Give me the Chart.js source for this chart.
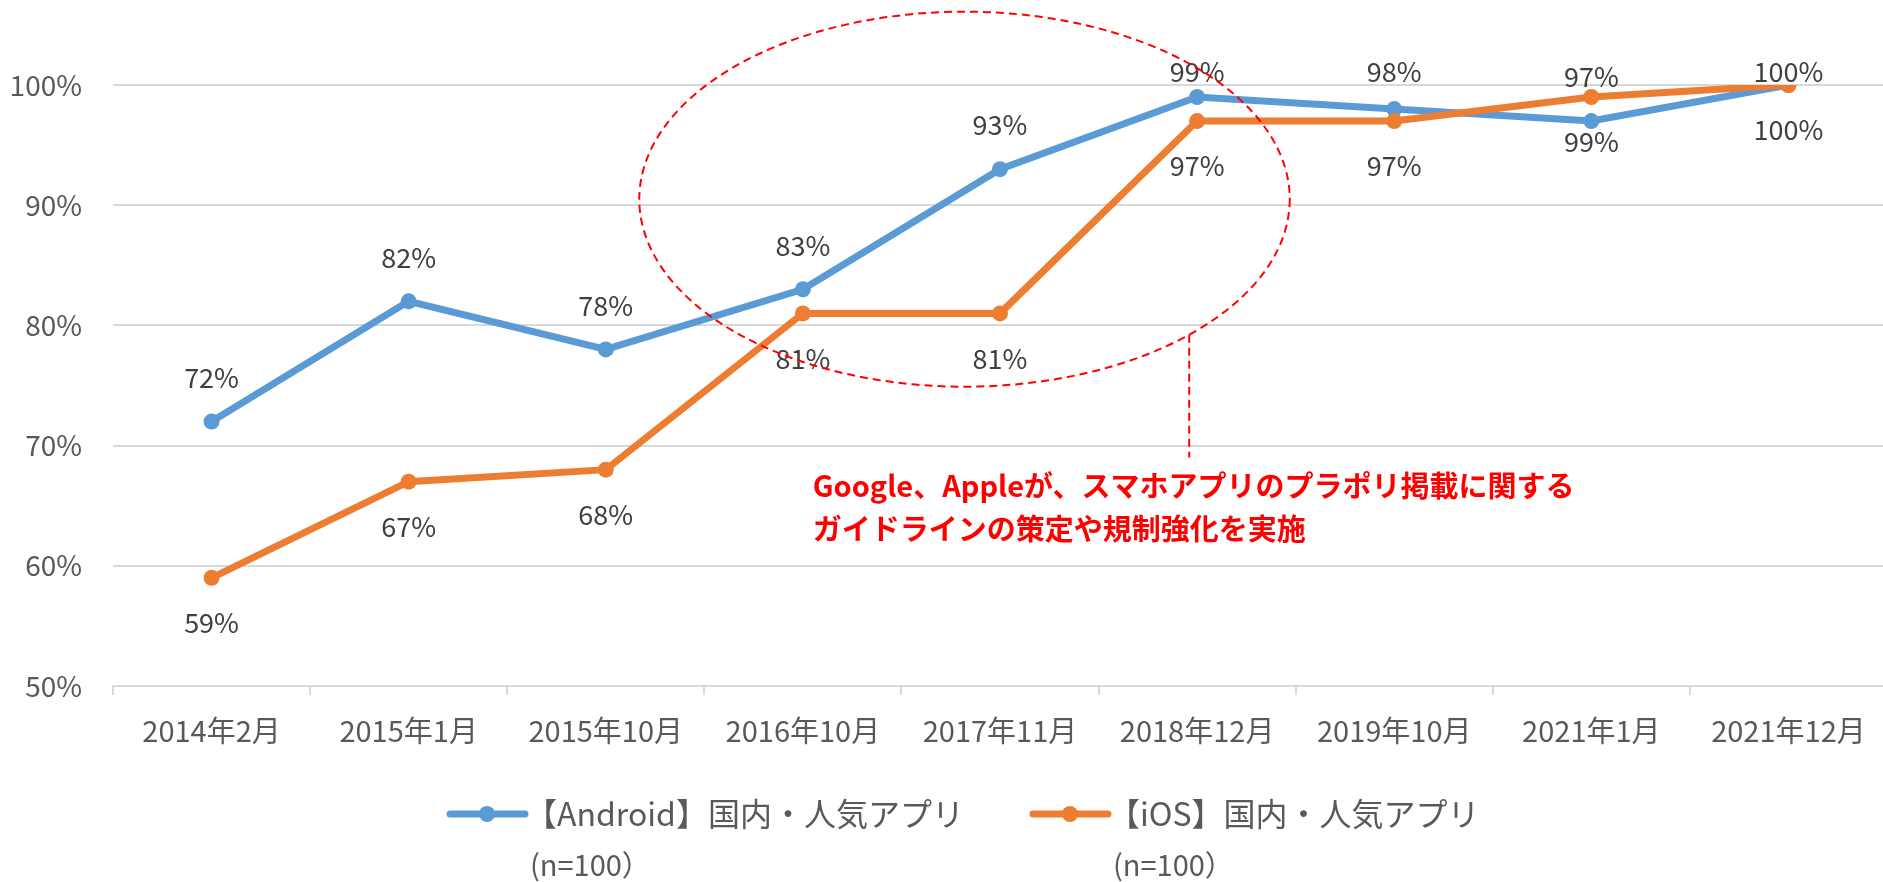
<!DOCTYPE html>
<html>
<head>
<meta charset="utf-8">
<script src="https://cdn.jsdelivr.net/npm/chart.js@4/dist/chart.umd.min.js"></script>
<style>
  html, body { margin: 0; padding: 0; background: #fff; overflow: hidden; }
  #wrap { width: 1895px; height: 882px; }
</style>
</head>
<body>
<div id="wrap"><canvas id="policyChart" width="1895" height="882"></canvas></div>
<script>
const categories = ["2014年2月", "2015年1月", "2015年10月", "2016年10月", "2017年11月", "2018年12月", "2019年10月", "2021年1月", "2021年12月"];
const androidValues = [72, 82, 78, 83, 93, 99, 98, 97, 100];
const iosValues = [59, 67, 68, 81, 81, 97, 97, 99, 100];
const seriesNames = ["【Android】国内・人気アプリ", "【iOS】国内・人気アプリ"];
const sampleNote = "(n=100）";
const calloutLines = ["Google、Appleが、スマホアプリのプラポリ掲載に関する", "ガイドラインの策定や規制強化を実施"];

const FONT = "'Noto Sans CJK JP', 'Noto Sans', sans-serif";
const BLUE = "#5B9BD5";
const ORANGE = "#ED7D31";

// value labels: android above the point, ios below
const dataLabels = {
  id: "dataLabels",
  afterDatasetsDraw(chart) {
    const ctx = chart.ctx;
    const minY = chart.chartArea.top - 13;
    ctx.save();
    ctx.font = "27px " + FONT;
    ctx.fillStyle = "#404040";
    ctx.textAlign = "center";
    ctx.textBaseline = "middle";
    chart.data.datasets.forEach((ds, i) => {
      chart.getDatasetMeta(i).data.forEach((pt, j) => {
        let y = pt.y + ds.labelOffset;
        if (y < minY) y = minY;
        ctx.fillText(ds.data[j] + "%", pt.x, y);
      });
    });
    ctx.restore();
  }
};

// red dashed ellipse + leader + note
const callout = {
  id: "callout",
  afterDatasetsDraw(chart) {
    const ctx = chart.ctx;
    const xs = chart.scales.x, ys = chart.scales.y;
    const x0 = xs.getPixelForValue(0);
    const step = xs.getPixelForValue(1) - x0;
    const xAt = (i) => x0 + i * step;

    const cx = xAt(3.82), cy = ys.getPixelForValue(90.5);
    const rx = 1.65 * step, ry = ys.getPixelForValue(74.9) - cy;

    ctx.save();
    ctx.strokeStyle = "#FF0000";
    ctx.lineWidth = 2;
    ctx.setLineDash([8, 5]);
    ctx.beginPath();
    ctx.ellipse(cx, cy, rx, ry, 0, 0, Math.PI * 2);
    ctx.stroke();

    const lx = xAt(4.96);
    const t = (lx - cx) / rx;
    ctx.beginPath();
    ctx.moveTo(lx, cy + ry * Math.sqrt(1 - t * t));
    ctx.lineTo(lx, ys.getPixelForValue(69));
    ctx.stroke();

    ctx.setLineDash([]);
    ctx.fillStyle = "#FF0000";
    ctx.font = "bold 29px " + FONT;
    ctx.textAlign = "left";
    ctx.textBaseline = "middle";
    ctx.fillText(calloutLines[0], xAt(3.05), ys.getPixelForValue(66.6));
    ctx.fillText(calloutLines[1], xAt(3.05), ys.getPixelForValue(63.1));
    ctx.restore();
  }
};

// legend with line+marker and a second "(n=100)" line
const legendX = [450, 1033];
const legendY = [814, 865];
const customLegend = {
  id: "customLegend",
  afterDraw(chart) {
    const ctx = chart.ctx;
    ctx.save();
    chart.data.datasets.forEach((ds, i) => {
      const x = legendX[i];
      ctx.strokeStyle = ds.borderColor;
      ctx.lineWidth = 7;
      ctx.lineCap = "round";
      ctx.beginPath();
      ctx.moveTo(x, legendY[0]);
      ctx.lineTo(x + 75, legendY[0]);
      ctx.stroke();
      ctx.fillStyle = ds.borderColor;
      ctx.beginPath();
      ctx.arc(x + 37, legendY[0], 8, 0, Math.PI * 2);
      ctx.fill();

      ctx.fillStyle = "#595959";
      ctx.font = "32px " + FONT;
      ctx.textAlign = "left";
      ctx.textBaseline = "middle";
      ctx.fillText(ds.label, x + 75, legendY[0]);
      ctx.font = "29px " + FONT;
      ctx.fillText(sampleNote, x + 80, legendY[1]);
    });
    ctx.restore();
  }
};

new Chart(document.getElementById("policyChart"), {
  type: "line",
  data: {
    labels: categories,
    datasets: [
      {
        label: seriesNames[0],
        data: androidValues,
        borderColor: BLUE,
        backgroundColor: BLUE,
        borderWidth: 7,
        pointRadius: 8,
        pointBorderWidth: 0,
        pointBackgroundColor: BLUE,
        tension: 0,
        order: 1,
        labelOffset: -44,
      },
      {
        label: seriesNames[1],
        data: iosValues,
        borderColor: ORANGE,
        backgroundColor: ORANGE,
        borderWidth: 7,
        pointRadius: 8,
        pointBorderWidth: 0,
        pointBackgroundColor: ORANGE,
        tension: 0,
        order: 0,
        labelOffset: 45,
      },
    ],
  },
  options: {
    responsive: false,
    animation: false,
    layout: { padding: { top: 85, left: 0, right: 0, bottom: 0 } },
    plugins: {
      legend: { display: false },
      tooltip: { enabled: false },
    },
    scales: {
      x: {
        offset: true,
        grid: {
          offset: true,
          drawOnChartArea: false,
          color: "#D9D9D9",
          lineWidth: 2,
          tickLength: 9,
        },
        border: { display: true, color: "#D9D9D9", width: 2 },
        ticks: {
          color: "#595959",
          font: { family: FONT, size: 29 },
          padding: 19,
          maxRotation: 0,
          autoSkip: false,
        },
        afterFit: (scale) => { scale.height = 196; },
      },
      y: {
        min: 50,
        max: 100,
        grid: { color: "#D9D9D9", lineWidth: 2, drawTicks: false },
        border: { display: false },
        ticks: {
          stepSize: 10,
          color: "#595959",
          font: { family: FONT, size: 28 },
          padding: 31,
          callback: (v) => v + "%",
        },
        afterFit: (scale) => { scale.width = 113; },
      },
    },
  },
  plugins: [dataLabels, callout, customLegend],
});
</script>
</body>
</html>
